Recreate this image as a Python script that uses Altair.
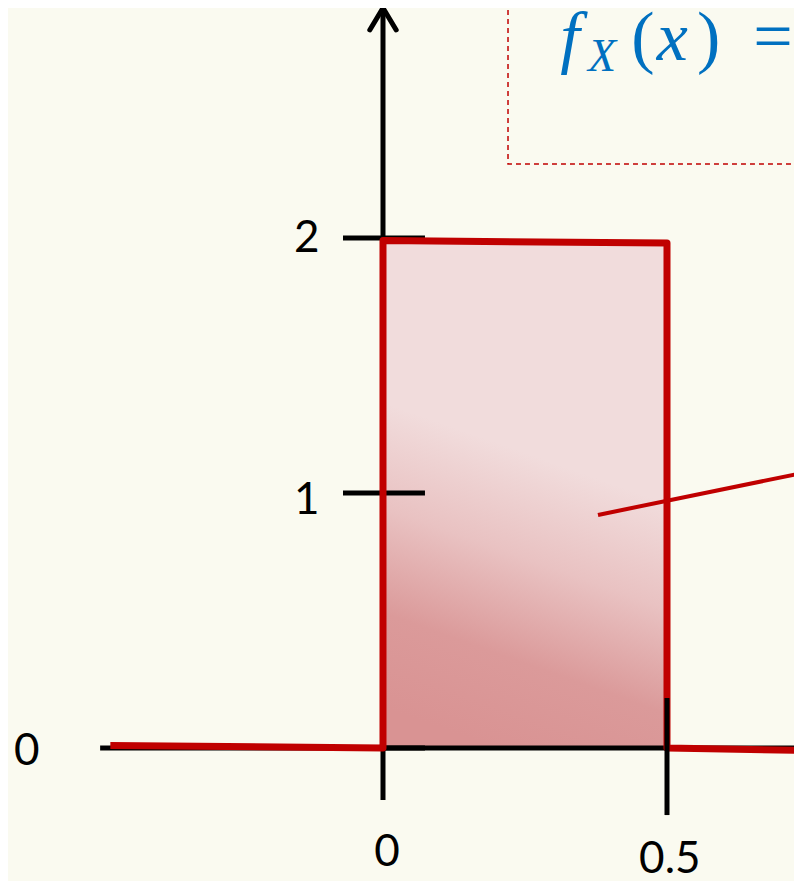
import altair as alt
import pandas as pd

# ---- values (data units) ----
# density f_X(x): 2 on [0, 0.5], 0 elsewhere
step_x = [-0.48, 0.0, 0.0, 0.5, 0.5, 0.74]
step_y = [0.01, 0.0, 1.99, 1.98, 0.0, -0.01]

fill_x, fill_x2 = [0.0], [0.5]
fill_y, fill_y2 = [0.0], [1.985]

# axis lines (x, y) -> (x2, y2)
axis_x = [-0.498, 0.0]
axis_x2 = [0.74, 0.0]
axis_y = [0.0, -0.204]
axis_y2 = [0.0, 2.894]

# y-axis ticks
ytick_values = [0, 1, 2]
ytick_from, ytick_to = -0.0704, 0.0739

# x-axis tick at 0.5
xtick_values = [0.5]
xtick_from, xtick_to = 0.196, -0.263

# tick labels
label_text = ["2", "1", "0", "0", "0.5"]
label_x = [-0.134, -0.134, -0.627, 0.007, 0.505]
label_y = [1.995, 0.97, -0.015, -0.412, -0.44]

# pointer line
pointer_x, pointer_y = [0.3785], [0.914]
pointer_x2, pointer_y2 = [0.7377], [1.078]

# dashed formula box (left and bottom edges)
box_x = [0.2201, 0.2201, 0.76]
box_y = [3.0, 2.290, 2.290]

# formula f_X(x) =
formula_italic = ["f", "x"]
formula_italic_x = [0.312, 0.482]
formula_italic_y = [2.70, 2.70]
formula_sub = ["X"]
formula_sub_x = [0.361]
formula_sub_y = [2.655]
formula_roman = ["(", ")", "="]
formula_roman_x = [0.437, 0.553, 0.652]
formula_roman_y = [2.70, 2.70, 2.70]

# arrow head on the y axis
arrow_x, arrow_y = [0.0], [2.859]

# ---- scales ----
W, H = 786, 873
X_DOMAIN = [-0.6602, 0.7236]
Y_DOMAIN = [-0.5216, 2.9020]
xs = alt.Scale(domain=X_DOMAIN, nice=False, zero=False)
ys = alt.Scale(domain=Y_DOMAIN, nice=False, zero=False)

RED = "#C00000"
BLUE = "#0070C0"


def X(f="x"):
    return alt.X(f"{f}:Q", scale=xs, axis=None)


def Y(f="y"):
    return alt.Y(f"{f}:Q", scale=ys, axis=None)


fill_df = pd.DataFrame({"x": fill_x, "x2": fill_x2, "y": fill_y, "y2": fill_y2})
fill = alt.Chart(fill_df).mark_rect(
    fill=alt.LinearGradient(
        gradient="linear",
        stops=[
            alt.GradientStop(color="#F1DCDC", offset=0),
            alt.GradientStop(color="#F1DCDC", offset=0.42),
            alt.GradientStop(color="#E9C2C2", offset=0.62),
            alt.GradientStop(color="#DB9A9A", offset=0.82),
            alt.GradientStop(color="#D99393", offset=1),
        ],
        x1=0.6, x2=0.4, y1=0, y2=1,
    )
).encode(x=X(), x2="x2:Q", y=Y(), y2="y2:Q")

axes_df = pd.DataFrame({"x": axis_x, "x2": axis_x2, "y": axis_y, "y2": axis_y2})
axes = alt.Chart(axes_df).mark_rule(color="black", strokeWidth=5).encode(
    x=X(), x2="x2:Q", y=Y(), y2="y2:Q"
)

yt_df = pd.DataFrame({"y": ytick_values, "x": [ytick_from] * 3, "x2": [ytick_to] * 3})
yticks = alt.Chart(yt_df).mark_rule(color="black", strokeWidth=5).encode(
    x=X(), x2="x2:Q", y=Y(), y2="y:Q"
)

step_df = pd.DataFrame({"x": step_x, "y": step_y, "i": list(range(len(step_x)))})
step = alt.Chart(step_df).mark_line(
    color=RED, strokeWidth=7, strokeJoin="round", strokeCap="butt", clip=True
).encode(x=X(), y=Y(), order="i:O")

ptr_df = pd.DataFrame({"x": pointer_x, "y": pointer_y, "x2": pointer_x2, "y2": pointer_y2})
pointer = alt.Chart(ptr_df).mark_rule(color=RED, strokeWidth=4, clip=True).encode(
    x=X(), x2="x2:Q", y=Y(), y2="y2:Q"
)

xt_df = pd.DataFrame({"x": xtick_values, "y": [xtick_from], "y2": [xtick_to]})
xticks = alt.Chart(xt_df).mark_rule(color="black", strokeWidth=5).encode(
    x=X(), x2="x:Q", y=Y(), y2="y2:Q"
)

lab_df = pd.DataFrame({"x": label_x, "y": label_y, "t": label_text})
labels = alt.Chart(lab_df).mark_text(
    font="Lato", fontSize=44, color="black", align="center", baseline="middle"
).encode(x=X(), y=Y(), text="t:N")

box_df = pd.DataFrame({"x": box_x, "y": box_y, "i": list(range(len(box_x)))})
box = alt.Chart(box_df).mark_line(
    color=RED, strokeWidth=1.5, strokeDash=[5, 4], clip=True
).encode(x=X(), y=Y(), order="i:O")

fi_df = pd.DataFrame({"x": formula_italic_x, "y": formula_italic_y, "t": formula_italic})
f_it = alt.Chart(fi_df).mark_text(
    font="Liberation Serif", fontStyle="italic", fontSize=70, color=BLUE,
    align="left", baseline="alphabetic"
).encode(x=X(), y=Y(), text="t:N")

fs_df = pd.DataFrame({"x": formula_sub_x, "y": formula_sub_y, "t": formula_sub})
f_sub = alt.Chart(fs_df).mark_text(
    font="Liberation Serif", fontStyle="italic", fontSize=46, color=BLUE,
    align="left", baseline="alphabetic"
).encode(x=X(), y=Y(), text="t:N")

fr_df = pd.DataFrame({"x": formula_roman_x, "y": formula_roman_y, "t": formula_roman})
f_rm = alt.Chart(fr_df).mark_text(
    font="Liberation Serif", fontSize=70, color=BLUE,
    align="left", baseline="alphabetic"
).encode(x=X(), y=Y(), text="t:N")

ar_df = pd.DataFrame({"x": arrow_x, "y": arrow_y})
arrow = alt.Chart(ar_df).mark_point(
    shape="M-0.6,0.5L0,-0.5L0.6,0.5", size=44 * 44, filled=False,
    stroke="black", strokeWidth=5, strokeCap="round", strokeJoin="round", opacity=1
).encode(x=X(), y=Y())

chart = alt.layer(
    fill, axes, yticks, step, pointer, xticks, labels, box, f_it, f_sub, f_rm, arrow
).properties(
    width=W, height=H, padding=0, autosize=alt.AutoSizeParams(type="none")
).configure(background="#FAFAF0").configure_view(stroke=None)

chart.save("out.html", embed_options={"renderer": "svg", "actions": False})
